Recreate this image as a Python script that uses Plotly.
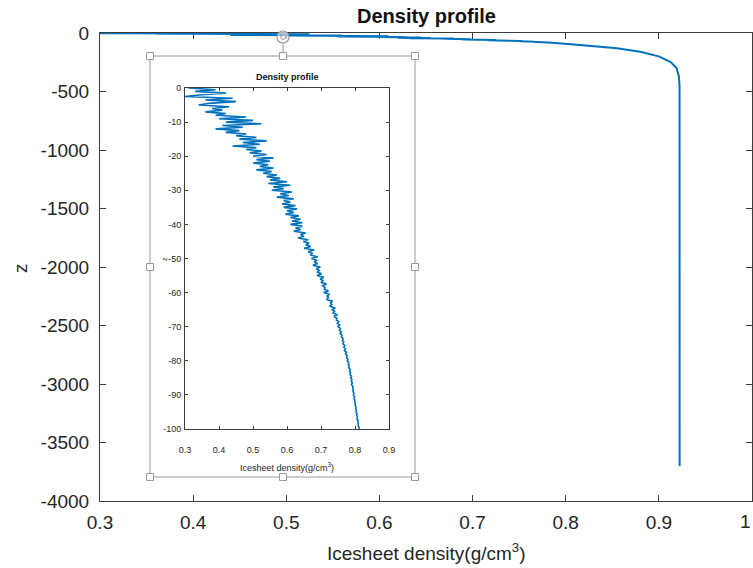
import plotly.graph_objects as go

# ---------------- data ----------------
# Inset: top 100 m of the density profile (noisy firn layer)
inset_depth = [
    0, -0.5, -1, -1.5, -2, -2.5, -3, -3.5, -4, -4.5,
    -5, -5.5, -6, -6.5, -7, -7.5, -8, -8.5, -9, -9.5,
    -10, -10.5, -11, -11.5, -12, -12.5, -13, -13.5, -14, -14.5,
    -15, -15.5, -16, -16.5, -17, -17.5, -18, -18.5, -19, -19.5,
    -20, -20.5, -21, -21.5, -22, -22.5, -23, -23.5, -24, -24.5,
    -25, -25.5, -26, -26.5, -27, -27.5, -28, -28.5, -29, -29.5,
    -30, -30.5, -31, -31.5, -32, -32.5, -33, -33.5, -34, -34.5,
    -35, -35.5, -36, -36.5, -37, -37.5, -38, -38.5, -39, -39.5,
    -40, -40.5, -41, -41.5, -42, -42.5, -43, -43.5, -44, -44.5,
    -45, -45.5, -46, -46.5, -47, -47.5, -48, -48.5, -49, -49.5,
    -50, -50.5, -51, -51.5, -52, -52.5, -53, -53.5, -54, -54.5,
    -55, -55.5, -56, -56.5, -57, -57.5, -58, -58.5, -59, -59.5,
    -60, -60.5, -61, -61.5, -62, -62.5, -63, -63.5, -64, -64.5,
    -65, -65.5, -66, -66.5, -67, -67.5, -68, -68.5, -69, -69.5,
    -70, -70.5, -71, -71.5, -72, -72.5, -73, -73.5, -74, -74.5,
    -75, -75.5, -76, -76.5, -77, -77.5, -78, -78.5, -79, -79.5,
    -80, -80.5, -81, -81.5, -82, -82.5, -83, -83.5, -84, -84.5,
    -85, -85.5, -86, -86.5, -87, -87.5, -88, -88.5, -89, -89.5,
    -90, -90.5, -91, -91.5, -92, -92.5, -93, -93.5, -94, -94.5,
    -95, -95.5, -96, -96.5, -97, -97.5, -98, -98.5, -99, -99.5,
    -100,
]
inset_rho = [
    0.31, 0.39, 0.33, 0.42, 0.35, 0.30, 0.44, 0.36, 0.45, 0.37,
    0.34, 0.43, 0.38, 0.41, 0.36, 0.42, 0.39, 0.48, 0.40, 0.50,
    0.42, 0.525, 0.41, 0.47, 0.39, 0.46, 0.42, 0.48, 0.45, 0.51,
    0.46, 0.54, 0.47, 0.52, 0.44, 0.51, 0.48, 0.525, 0.49, 0.54,
    0.50, 0.56, 0.51, 0.55, 0.50, 0.545, 0.52, 0.56, 0.51, 0.555,
    0.53, 0.57, 0.54, 0.58, 0.55, 0.60, 0.545, 0.61, 0.56, 0.59,
    0.555, 0.615, 0.58, 0.605, 0.57, 0.62, 0.59, 0.61, 0.585, 0.625,
    0.59, 0.63, 0.60, 0.62, 0.595, 0.635, 0.61, 0.64, 0.615, 0.645,
    0.61, 0.645, 0.625, 0.64, 0.62, 0.655, 0.64, 0.65, 0.632, 0.662,
    0.648, 0.665, 0.655, 0.67, 0.65, 0.68, 0.662, 0.676, 0.668, 0.69,
    0.672, 0.688, 0.68, 0.69, 0.676, 0.698, 0.686, 0.695, 0.69, 0.702,
    0.688, 0.708, 0.698, 0.706, 0.70, 0.716, 0.705, 0.712, 0.71, 0.722,
    0.708, 0.725, 0.718, 0.722, 0.716, 0.734, 0.728, 0.732, 0.725, 0.742,
    0.733, 0.74, 0.736, 0.748, 0.738, 0.747, 0.745, 0.752, 0.748, 0.755,
    0.75, 0.757, 0.754, 0.76, 0.756, 0.762, 0.76, 0.765, 0.763, 0.767,
    0.764, 0.77, 0.767, 0.772, 0.769, 0.775, 0.772, 0.777, 0.775, 0.779,
    0.777, 0.782, 0.78, 0.783, 0.781, 0.786, 0.784, 0.787, 0.785, 0.79,
    0.787, 0.791, 0.789, 0.792, 0.79, 0.794, 0.793, 0.795, 0.794, 0.797,
    0.795, 0.799, 0.797, 0.80, 0.799, 0.801, 0.80, 0.803, 0.802, 0.804,
    0.803, 0.806, 0.805, 0.807, 0.806, 0.809, 0.808, 0.81, 0.809, 0.812,
    0.812,
]

# Main panel: deeper part of the profile (below 100 m)
deep_depth = [-130, -160, -200, -250, -300, -370, -450, -1000, -2000, -3000, -3700]
deep_rho = [0.855, 0.88, 0.90, 0.913, 0.919, 0.9215, 0.9222, 0.9223, 0.9223, 0.9223, 0.9223]

main_depth = inset_depth + deep_depth
main_rho = inset_rho + deep_rho

main_xticks = [0.3, 0.4, 0.5, 0.6, 0.7, 0.8, 0.9, 1.0]
main_xticktext = ["0.3", "0.4", "0.5", "0.6", "0.7", "0.8", "0.9", "1"]
main_yticks = [0, -500, -1000, -1500, -2000, -2500, -3000, -3500, -4000]
main_yticktext = ["0", "-500", "-1000", "-1500", "-2000", "-2500", "-3000", "-3500", "-4000"]

inset_xticks = [0.3, 0.4, 0.5, 0.6, 0.7, 0.8, 0.9]
inset_xticktext = ["0.3", "0.4", "0.5", "0.6", "0.7", "0.8", "0.9"]
inset_yticks = [0, -10, -20, -30, -40, -50, -60, -70, -80, -90, -100]
inset_yticktext = ["0", "-10", "-20", "-30", "-40", "-50", "-60", "-70", "-80", "-90", "-100"]

# ---------------- layout helpers ----------------
W, H = 753, 568
L, R, T, B = 100, 1, 33, 67
PW, PH = W - L - R, H - T - B


def px(x):
    return (x - L) / PW


def py(y):
    return (H - B - y) / PH


BLUE = "#0072BD"
AX = "#3c3c3c"
TXT = "#262626"
FRAME = "#9a9a9a"
FONT = "Liberation Sans, Arial, sans-serif"
NARROW = "Liberation Sans Narrow, Arial Narrow, Liberation Sans, sans-serif"

fig = go.Figure()

fig.add_trace(go.Scatter(
    x=main_rho, y=main_depth, mode="lines",
    line=dict(color=BLUE, width=2), xaxis="x", yaxis="y",
    showlegend=False, hoverinfo="skip",
))
fig.add_trace(go.Scatter(
    x=inset_rho, y=inset_depth, mode="lines",
    line=dict(color=BLUE, width=1.6), xaxis="x2", yaxis="y2",
    showlegend=False, hoverinfo="skip",
))

common_axis = dict(
    showline=True, linecolor=AX, linewidth=1, mirror="allticks",
    ticks="inside", tickcolor=AX, showgrid=False, zeroline=False,
    layer="below traces", automargin=False,
)

shapes = []
# inset frame (white picture box)
shapes.append(dict(type="rect", xref="paper", yref="paper",
                   x0=px(150), x1=px(415), y0=py(477), y1=py(56),
                   fillcolor="white", line=dict(color=FRAME, width=1), layer="below"))
# rotation handle stem
shapes.append(dict(type="line", xref="paper", yref="paper",
                   x0=px(283), x1=px(283), y0=py(43), y1=py(53),
                   line=dict(color=FRAME, width=1), layer="above"))
# rotation handle circle
shapes.append(dict(type="circle", xref="paper", yref="paper",
                   x0=px(277), x1=px(289), y0=py(43), y1=py(31),
                   fillcolor="rgba(255,255,255,0.6)", line=dict(color=FRAME, width=1.2), layer="above"))
# sizing handles
for hx, hy in [(150, 56), (283, 56), (415, 56), (150, 267), (415, 267),
               (150, 477), (283, 477), (415, 477)]:
    shapes.append(dict(type="rect", xref="paper", yref="paper",
                       x0=px(hx - 3.5), x1=px(hx + 3.5), y0=py(hy + 3.5), y1=py(hy - 3.5),
                       fillcolor="white", line=dict(color=FRAME, width=1), layer="above"))

# last x tick label sits at the page edge; anchor it on its right so it stays visible
edge_label = main_xticktext[-1]
axis_ticktext = main_xticktext[:-1] + [""]

annotations = [
    dict(text="Density profile", xref="paper", yref="paper", x=px(426), y=py(16),
         showarrow=False, xanchor="center", yanchor="middle",
         font=dict(family=FONT, size=20, color="#111111", weight="bold")),
    dict(text="Icesheet density(g/cm<sup>3</sup>)", xref="paper", yref="paper",
         x=px(426), y=py(552), showarrow=False, xanchor="center", yanchor="middle",
         font=dict(family=FONT, size=19, color=TXT)),
    dict(text="z", xref="paper", yref="paper", x=px(20), y=py(268), textangle=-90,
         showarrow=False, xanchor="center", yanchor="middle",
         font=dict(family=FONT, size=19, color=TXT)),
    dict(text=edge_label, xref="x", yref="paper", x=main_xticks[-1], y=py(521),
         showarrow=False, xanchor="right", yanchor="middle", xshift=1,
         font=dict(family=FONT, size=19, color=TXT)),
    # inset texts
    dict(text="Density profile", xref="paper", yref="paper", x=px(287), y=py(77),
         showarrow=False, xanchor="center", yanchor="middle",
         font=dict(family=NARROW, size=9, color="#111111", weight="bold")),
    dict(text="Icesheet density(g/cm<sup>3</sup>)", xref="paper", yref="paper",
         x=px(287), y=py(467), showarrow=False, xanchor="center", yanchor="middle",
         font=dict(family=NARROW, size=9, color=TXT)),
    dict(text="z", xref="paper", yref="paper", x=px(164), y=py(259), textangle=-90,
         showarrow=False, xanchor="center", yanchor="middle",
         font=dict(family=NARROW, size=7, color=TXT)),
    dict(text="↻", xref="paper", yref="paper", x=px(283), y=py(37),
         showarrow=False, xanchor="center", yanchor="middle",
         font=dict(family="DejaVu Sans", size=9, color=FRAME)),
]

fig.update_layout(
    width=W, height=H,
    margin=dict(l=L, r=R, t=T, b=B, pad=0, autoexpand=False),
    paper_bgcolor="white", plot_bgcolor="rgba(0,0,0,0)",
    font=dict(family=FONT, color=TXT),
    xaxis=dict(domain=[0, 1], range=[0.3, 1.0], tickvals=main_xticks, ticktext=axis_ticktext,
               ticklen=6, tickfont=dict(size=19, color=TXT), ticklabelstandoff=4,
               anchor="y", **common_axis),
    yaxis=dict(domain=[0, 1], range=[-4000, 0], tickvals=main_yticks, ticktext=main_yticktext,
               ticklen=6, tickfont=dict(size=19, color=TXT), ticklabelstandoff=6,
               anchor="x", **common_axis),
    xaxis2=dict(domain=[px(185), px(389)], range=[0.3, 0.9], tickvals=inset_xticks,
                ticktext=inset_xticktext, ticklen=3, anchor="y2",
                tickfont=dict(family=NARROW, size=9, color=TXT), ticklabelstandoff=12,
                **common_axis),
    yaxis2=dict(domain=[py(429), py(88)], range=[-100, 0], tickvals=inset_yticks,
                ticktext=inset_yticktext, ticklen=3, anchor="x2",
                tickfont=dict(family=NARROW, size=9, color=TXT), ticklabelstandoff=1,
                **common_axis),
    shapes=shapes,
    annotations=annotations,
)

fig.write_html("out.html")
